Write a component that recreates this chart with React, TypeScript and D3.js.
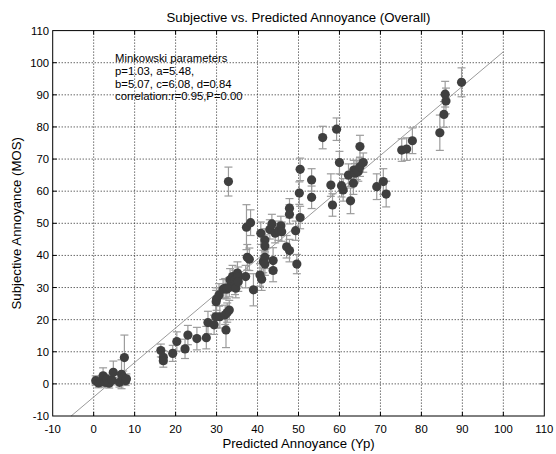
import React, { useEffect, useRef } from "react";
import * as d3 from "d3";

// predicted annoyance (Yp) per test clip
const predicted = [
  0.5, 1.2, 1.8, 2.3, 2.8, 3.2, 3.8, 4.5, 4.8, 6.3, 6.8, 7.2, 7.5, 7.8, 8.0,
  16.4, 17.0, 17.0, 19.3, 20.3, 22.3, 23.0, 25.2, 27.5, 27.9, 29.4, 29.8, 30.8, 32.1, 32.6, 33.1, 32.3, 29.9, 30.0, 30.6,
  31.6, 32.1, 32.5, 33.1, 33.3, 33.9, 34.5, 34.5, 34.7, 35.1, 35.3, 35.3, 37.1, 37.5, 38.0, 39.0, 37.3, 38.3, 32.9,
  40.6, 41.0, 41.4, 41.8, 41.8, 40.8, 41.8, 41.8, 43.0, 43.5, 43.8, 43.8, 44.3, 45.1, 45.7, 45.9, 47.1, 47.8, 47.8, 47.8,
  49.3, 49.6, 50.4, 50.2, 50.4,
  53.2, 53.2, 55.9, 57.9, 58.3, 59.3, 60.0, 60.5, 60.9,
  62.2, 62.7, 63.4, 63.5, 63.8, 64.2, 64.6, 65.0, 65.0, 65.8, 69.1, 70.7, 71.4,
  75.2, 76.4, 77.8, 84.5, 85.5, 86.0, 85.8, 89.8
];

// subjective annoyance (MOS)
const mos = [
  1.0, 0.3, 0.8, 2.5, 0.5, 1.5, 0.2, 1.2, 3.6, 0.5, 3.0, 2.0, 8.2, 1.0, 1.6,
  10.4, 8.3, 7.2, 9.5, 13.2, 10.9, 15.2, 14.1, 14.4, 19.1, 18.4, 20.9, 20.9, 21.5, 22.2, 23.0, 16.8, 25.6, 26.4, 27.7,
  29.5, 29.8, 29.5, 30.1, 32.4, 33.4, 32.4, 30.8, 29.8, 34.5, 33.4, 31.8, 33.4, 39.4, 38.8, 29.3, 48.8, 50.2, 63.0,
  33.9, 32.6, 38.1, 39.4, 37.3, 46.9, 44.8, 42.9, 48.1, 49.8, 38.4, 35.3, 46.9, 47.7, 49.2, 47.4, 42.7, 41.5, 54.7, 52.8,
  47.7, 37.3, 51.8, 59.4, 66.8,
  63.5, 58.1, 76.7, 61.9, 55.7, 79.3, 68.9, 61.7, 60.4,
  65.0, 57.0, 62.5, 66.6, 65.6, 66.6, 66.1, 67.6, 73.9, 68.9, 61.4, 63.0, 59.1,
  72.8, 73.1, 75.7, 78.2, 83.9, 88.1, 90.2, 93.9
];

// half-width of the confidence interval
const ci = [
  1.5, 1.5, 1.5, 2.5, 1.5, 1.5, 1.5, 1.5, 3.5, 1.5, 4.5, 2.0, 7.0, 1.5, 1.5,
  2.0, 2.0, 2.0, 2.5, 3.0, 3.0, 3.0, 3.5, 3.5, 3.5, 3.0, 3.5, 3.5, 3.0, 3.0, 3.0, 5.5, 3.5, 3.5, 3.5,
  3.0, 3.0, 3.0, 3.0, 3.5, 3.5, 3.0, 3.0, 3.0, 3.5, 3.0, 3.0, 3.5, 4.0, 3.5, 5.0, 7.0, 4.0, 4.5,
  3.5, 3.5, 3.5, 3.5, 3.5, 3.5, 3.5, 3.5, 3.0, 3.0, 4.0, 3.5, 3.0, 3.0, 3.0, 3.0, 3.5, 3.5, 3.0, 3.0,
  3.0, 3.0, 3.5, 3.5, 3.5,
  3.5, 3.5, 3.5, 3.5, 3.5, 3.5, 3.5, 3.5, 3.5,
  3.5, 4.0, 3.5, 3.0, 3.0, 3.0, 3.0, 3.0, 3.5, 3.0, 4.0, 4.0, 4.0,
  3.5, 3.5, 4.0, 5.5, 4.0, 4.0, 4.0, 4.5
];

const ticks = [-10, 0, 10, 20, 30, 40, 50, 60, 70, 80, 90, 100, 110];

// fitted line end points
const fitX = [-5.5, 100];
const fitY = [-10, 103.4];

const notes = [
  "Minkowski parameters",
  "p=1.03, a=5.48,",
  "b=5.07, c=6.08, d=0.84",
  "correlation:r=0.95,P=0.00"
];

const W = 556;
const H = 454;
const font = "'Liberation Sans', Arial, sans-serif";

const App = () => {
  const ref = useRef<SVGSVGElement>(null);

  useEffect(() => {
    const svg = d3.select(ref.current);
    svg.selectAll("*").remove();

    const x = d3.scaleLinear().domain([-10, 110]).range([52.7, 544.3]);
    const y = d3.scaleLinear().domain([-10, 110]).range([416, 30.6]);
    const [x0, x1] = x.range();
    const [y0, y1] = y.range();

    svg.append("rect").attr("width", W).attr("height", H).attr("fill", "#fff");

    // dotted grid
    const inner = ticks.slice(1, -1);
    svg.append("g").selectAll("line").data(inner).join("line")
      .attr("x1", d => x(d)).attr("x2", d => x(d))
      .attr("y1", y1).attr("y2", y0)
      .attr("stroke", "#222").attr("stroke-dasharray", "1,2");
    svg.append("g").selectAll("line").data(inner).join("line")
      .attr("y1", d => y(d)).attr("y2", d => y(d))
      .attr("x1", x0).attr("x2", x1)
      .attr("stroke", "#222").attr("stroke-dasharray", "1,2");

    // fit line
    svg.append("line")
      .attr("x1", x(fitX[0])).attr("y1", y(fitY[0]))
      .attr("x2", x(fitX[1])).attr("y2", y(fitY[1]))
      .attr("stroke", "#9a9a9a").attr("stroke-width", 1);

    const pts = predicted.map((p, i) => ({ p, m: mos[i], e: ci[i] }));

    // error bars
    const eb = svg.append("g").attr("stroke", "#9c9c9c").attr("stroke-width", 1.2);
    pts.forEach(d => {
      const cx = x(d.p);
      eb.append("line").attr("x1", cx).attr("x2", cx)
        .attr("y1", y(d.m - d.e)).attr("y2", y(d.m + d.e));
      [d.m - d.e, d.m + d.e].forEach(v => {
        eb.append("line").attr("x1", cx - 4).attr("x2", cx + 4)
          .attr("y1", y(v)).attr("y2", y(v));
      });
    });

    svg.append("g").selectAll("circle").data(pts).join("circle")
      .attr("cx", d => x(d.p)).attr("cy", d => y(d.m))
      .attr("r", 4.6)
      .attr("fill", "#3f3f3f");

    // frame and inward ticks
    svg.append("rect")
      .attr("x", x0).attr("y", y1)
      .attr("width", x1 - x0).attr("height", y0 - y1)
      .attr("fill", "none").attr("stroke", "#000");

    const tk = svg.append("g").attr("stroke", "#000");
    inner.forEach(t => {
      tk.append("line").attr("x1", x(t)).attr("x2", x(t)).attr("y1", y0).attr("y2", y0 - 4);
      tk.append("line").attr("x1", x(t)).attr("x2", x(t)).attr("y1", y1).attr("y2", y1 + 4);
      tk.append("line").attr("y1", y(t)).attr("y2", y(t)).attr("x1", x0).attr("x2", x0 + 4);
      tk.append("line").attr("y1", y(t)).attr("y2", y(t)).attr("x1", x1).attr("x2", x1 - 4);
    });

    const txt = svg.append("g").attr("font-family", font).attr("font-size", 11.3).attr("fill", "#000");

    txt.selectAll(".xt").data(ticks).join("text")
      .attr("x", d => x(d)).attr("y", 433)
      .attr("text-anchor", "middle").text(d => d);
    txt.selectAll(".yt").data(ticks).join("text")
      .attr("x", 49).attr("y", d => y(d) + 4)
      .attr("text-anchor", "end").text(d => d);

    txt.append("text").attr("x", (x0 + x1) / 2).attr("y", 22)
      .attr("text-anchor", "middle").attr("font-size", 13.2)
      .text("Subjective vs. Predicted Annoyance (Overall)");
    txt.append("text").attr("x", (x0 + x1) / 2).attr("y", 448)
      .attr("text-anchor", "middle").attr("font-size", 13.2)
      .text("Predicted Annoyance (Yp)");
    txt.append("text")
      .attr("transform", `translate(21,${(y0 + y1) / 2}) rotate(-90)`)
      .attr("text-anchor", "middle").attr("font-size", 13.2)
      .text("Subjective Annoyance (MOS)");

    notes.forEach((n, i) => {
      txt.append("text").attr("x", 115).attr("y", 62 + i * 12.8).text(n);
    });
  }, []);

  return (
    <svg ref={ref} width={W} height={H}
      style={{ position: "absolute", left: 0, top: 0 }} />
  );
};

export default App;
